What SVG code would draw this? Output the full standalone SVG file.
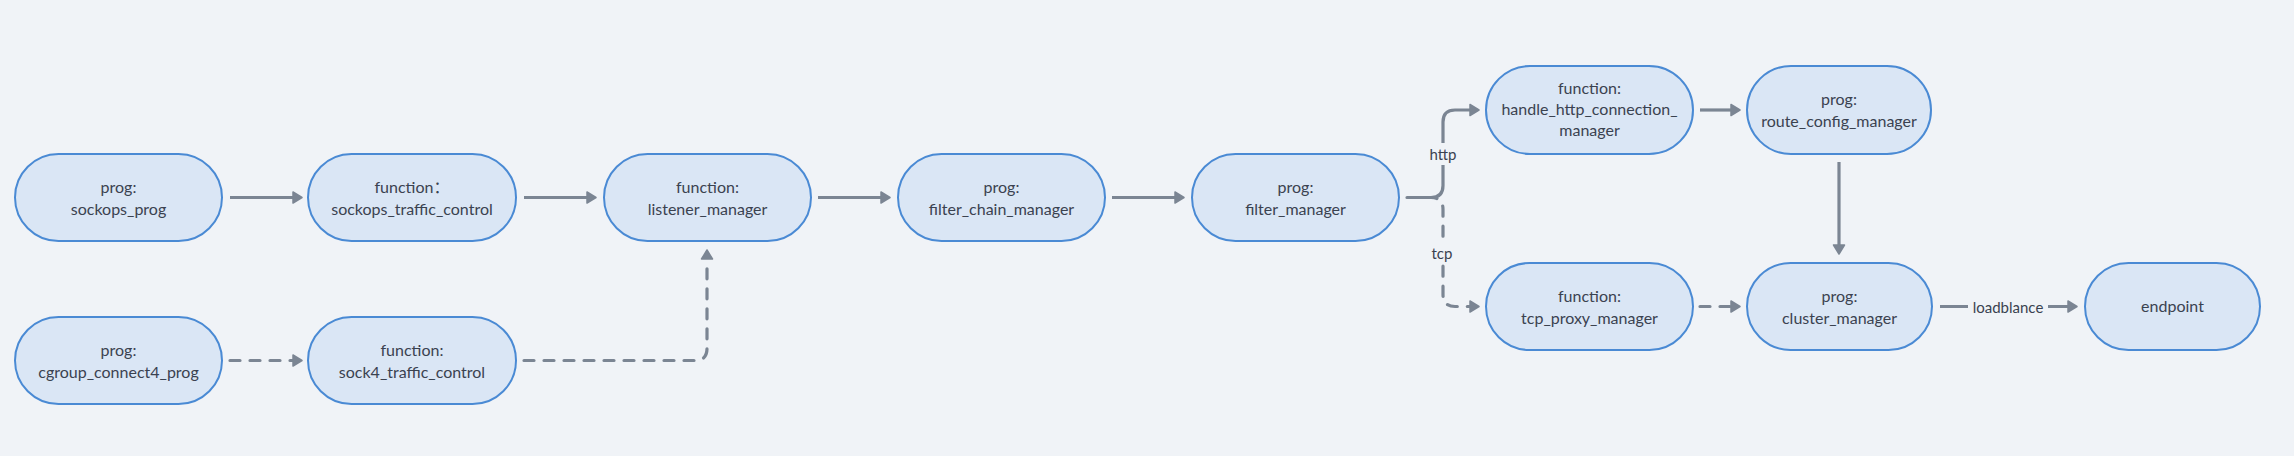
<svg xmlns="http://www.w3.org/2000/svg" width="2294" height="456" viewBox="0 0 2294 456">
<style>
.bg{fill:#f0f3f7}
.node rect{fill:#dae6f5;stroke:#4a8ad4;stroke-width:2}
.node text{font-family:Lato,"Noto Sans CJK SC",sans-serif;font-size:16px;fill:#3a4250;text-anchor:middle}
.edge{fill:none;stroke:#7b8593;stroke-width:3.2}
.dash{stroke-dasharray:10 10;stroke-linecap:round}
.lbg{fill:#f0f3f7}
.lbl{font-family:Lato,"Noto Sans CJK SC",sans-serif;font-size:15px;fill:#3a4250;text-anchor:middle;dominant-baseline:central}
</style>
<defs>
<marker id="ah" markerUnits="userSpaceOnUse" markerWidth="12" markerHeight="14" viewBox="0 0 12 14" refX="1" refY="7" orient="auto">
<path d="M1,1.5 L10,7 L1,12.5 Z" fill="#7b8593" stroke="#7b8593" stroke-width="1.5" stroke-linejoin="round"/>
</marker>
</defs>
<rect class="bg" x="0" y="0" width="2294" height="456"/>

<g id="connectors">
<path class="edge" d="M230,197.5 H293" marker-end="url(#ah)"/>
<path class="edge" d="M524,197.5 H587" marker-end="url(#ah)"/>
<path class="edge" d="M818,197.5 H881" marker-end="url(#ah)"/>
<path class="edge" d="M1112,197.5 H1175" marker-end="url(#ah)"/>
<path class="edge dash" d="M230,360.5 H293" marker-end="url(#ah)"/>
<path class="edge dash" d="M524,360.5 H695 Q707,360.5 707,348.5 V259" marker-end="url(#ah)"/>
<path class="edge dash" d="M1407,197.5 H1431 Q1443,197.5 1443,209.5 V294.5 Q1443,306.5 1455,306.5 H1470" marker-end="url(#ah)"/>
<path class="edge" d="M1407,197.5 H1431 Q1443,197.5 1443,185.5 V122 Q1443,110 1455,110 H1470" marker-end="url(#ah)"/>
<path class="edge" d="M1700,110 H1731" marker-end="url(#ah)"/>
<path class="edge" d="M1839,162 V245" marker-end="url(#ah)"/>
<path class="edge dash" d="M1700,306.5 H1731" marker-end="url(#ah)"/>
<path class="edge" d="M1940,306.5 H2068" marker-end="url(#ah)"/>
<rect class="lbg" x="1426" y="143" width="34" height="22"/>
<text class="lbl" x="1443" y="154">http</text>
<rect class="lbg" x="1428" y="242" width="28" height="22"/>
<text class="lbl" x="1442" y="253">tcp</text>
<rect class="lbg" x="1968" y="295" width="80" height="22"/>
<text class="lbl" x="2008" y="306.5">loadblance</text>
</g>

<g id="n1" class="node"><rect x="15" y="154" width="207" height="87" rx="43.5"/><text x="118.5" y="193">prog:</text><text x="118.5" y="215">sockops_prog</text></g>
<g id="n2" class="node"><rect x="308" y="154" width="208" height="87" rx="43.5"/><text x="412" y="193">function：</text><text x="412" y="215">sockops_traffic_control</text></g>
<g id="n3" class="node"><rect x="604" y="154" width="207" height="87" rx="43.5"/><text x="707.5" y="193">function:</text><text x="707.5" y="215">listener_manager</text></g>
<g id="n4" class="node"><rect x="898" y="154" width="207" height="87" rx="43.5"/><text x="1001.5" y="193">prog:</text><text x="1001.5" y="215">filter_chain_manager</text></g>
<g id="n5" class="node"><rect x="1192" y="154" width="207" height="87" rx="43.5"/><text x="1295.5" y="193">prog:</text><text x="1295.5" y="215">filter_manager</text></g>
<g id="n6" class="node"><rect x="15" y="317" width="207" height="87" rx="43.5"/><text x="118.5" y="356">prog:</text><text x="118.5" y="378">cgroup_connect4_prog</text></g>
<g id="n7" class="node"><rect x="308" y="317" width="208" height="87" rx="43.5"/><text x="412" y="356">function:</text><text x="412" y="378">sock4_traffic_control</text></g>
<g id="n8" class="node"><rect x="1486" y="66" width="207" height="88" rx="44"/><text x="1589.5" y="94">function:</text><text x="1589.5" y="115">handle_http_connection_</text><text x="1589.5" y="136">manager</text></g>
<g id="n9" class="node"><rect x="1747" y="66" width="184" height="88" rx="44"/><text x="1839" y="105">prog:</text><text x="1839" y="127">route_config_manager</text></g>
<g id="n10" class="node"><rect x="1486" y="263" width="207" height="87" rx="43.5"/><text x="1589.5" y="302">function:</text><text x="1589.5" y="324">tcp_proxy_manager</text></g>
<g id="n11" class="node"><rect x="1747" y="263" width="185" height="87" rx="43.5"/><text x="1839.5" y="302">prog:</text><text x="1839.5" y="324">cluster_manager</text></g>
<g id="n12" class="node"><rect x="2085" y="263" width="175" height="87" rx="43.5"/><text x="2172.5" y="312">endpoint</text></g>
</svg>
